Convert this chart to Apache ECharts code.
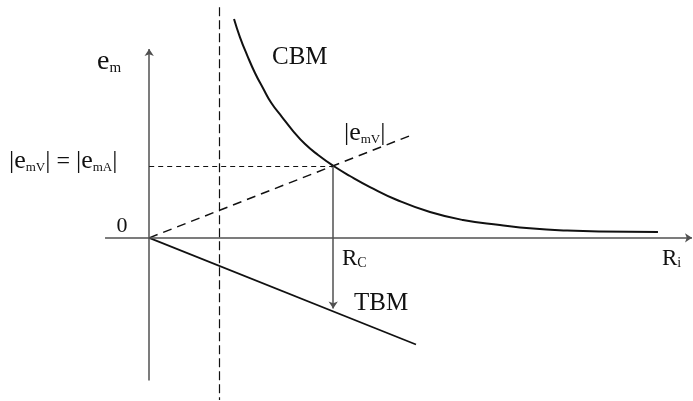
<!DOCTYPE html>
<html>
<head>
<meta charset="utf-8">
<script src="https://cdn.jsdelivr.net/npm/echarts@6/dist/echarts.min.js"></script>
<style>
  html, body { margin: 0; padding: 0; background: #fff; }
  #chart { width: 693px; height: 401px; }
</style>
</head>
<body>
<div id="chart"></div>
<script>
// CBM curve: e_m against R_i (arbitrary units, R_C = 1, e at R_C = 1)
const cbmR = [0.461, 0.493, 0.532, 0.575, 0.618, 0.664, 0.722, 0.782, 0.847, 0.918, 1.0,
              1.091, 1.200, 1.347, 1.526, 1.705, 1.906, 2.086, 2.271, 2.450, 2.765];
const cbmE = [3.036, 2.786, 2.536, 2.287, 2.079, 1.870, 1.676, 1.482, 1.301, 1.149, 1.0,
              0.858, 0.705, 0.525, 0.358, 0.247, 0.178, 0.129, 0.101, 0.087, 0.080];

// |e_mV| rising line and TBM falling line, both from the origin
const emvR = [0, 1.42];
const emvE = [0, 1.42];
const tbmR = [0, 1.45];
const tbmE = [0, -1.48];

// crossing point and the dashed boundary
const rC = 1.0;
const eC = 1.0;
const eTbmAtRc = -0.98;
const boundaryR = 0.38;

// axis extents
const xAxisFrom = -0.24, xAxisTo = 2.95;
const yAxisFrom = -1.98, yAxisTo = 2.62;

const zip = (xs, ys) => xs.map((x, i) => [x, ys[i]]);

const SERIF = '"Liberation Serif", "DejaVu Serif", serif';
const INK = '#111';
const AXIS = '#505050';

function sub(main, s, mainSize, subSize) {
  return {
    text: '{a|' + main + '}{b|' + s + '}',
    rich: {
      a: { fontFamily: SERIF, fontSize: mainSize, fill: INK, verticalAlign: 'bottom' },
      b: { fontFamily: SERIF, fontSize: subSize, fill: INK, verticalAlign: 'bottom' }
    }
  };
}

const chart = echarts.init(document.getElementById('chart'), null, { renderer: 'canvas' });

const hidden = { show: false };
chart.setOption({
  animation: false,
  backgroundColor: '#fff',
  grid: { left: 2, right: 1, top: 0, bottom: 1 },
  xAxis: { type: 'value', min: -0.8, max: 2.95, axisLine: hidden, axisTick: hidden, axisLabel: hidden, splitLine: hidden },
  yAxis: { type: 'value', min: -2.25, max: 3.3, axisLine: hidden, axisTick: hidden, axisLabel: hidden, splitLine: hidden },
  series: [
    {
      name: 'axes',
      type: 'line',
      data: [],
      silent: true,
      markLine: {
        silent: true,
        symbol: ['none', 'arrow'],
        symbolSize: 7,
        label: { show: false },
        lineStyle: { color: AXIS, width: 1.5, type: 'solid' },
        emphasis: { disabled: true },
        data: [
          [{ coord: [xAxisFrom, 0] }, { coord: [xAxisTo, 0] }],
          [{ coord: [0, yAxisFrom] }, { coord: [0, yAxisTo] }],
          [{ coord: [rC, eC] }, { coord: [rC, eTbmAtRc] }]
        ]
      }
    },
    {
      name: 'boundary',
      type: 'line',
      data: [],
      silent: true,
      markLine: {
        silent: true,
        symbol: ['none', 'none'],
        label: { show: false },
        emphasis: { disabled: true },
        data: [
          [{ coord: [boundaryR, 3.2], lineStyle: { color: INK, width: 1.2, type: [9, 4] } },
           { coord: [boundaryR, -2.25] }],
          [{ coord: [0, eC], lineStyle: { color: INK, width: 1, type: [5, 4] } },
           { coord: [rC, eC] }]
        ]
      }
    },
    {
      name: 'CBM',
      type: 'line',
      data: zip(cbmR, cbmE),
      smooth: 0.5,
      showSymbol: false,
      silent: true,
      lineStyle: { color: INK, width: 2 }
    },
    {
      name: '|emV|',
      type: 'line',
      data: zip(emvR, emvE),
      showSymbol: false,
      silent: true,
      lineStyle: { color: INK, width: 1.5, type: [9, 6] }
    },
    {
      name: 'TBM',
      type: 'line',
      data: zip(tbmR, tbmE),
      showSymbol: false,
      silent: true,
      lineStyle: { color: INK, width: 1.7 }
    }
  ],
  graphic: [
    { type: 'text', x: 97, y: 76, style: Object.assign(sub('e', 'm', 28, 15), { verticalAlign: 'bottom' }) },
    { type: 'text', x: 272, y: 57, style: { text: 'CBM', fontFamily: SERIF, fontSize: 25, fill: INK, verticalAlign: 'middle' } },
    { type: 'text', x: 354, y: 303, style: { text: 'TBM', fontFamily: SERIF, fontSize: 25, fill: INK, verticalAlign: 'middle' } },
    { type: 'text', x: 122, y: 226, style: { text: '0', fontFamily: SERIF, fontSize: 22, fill: INK, align: 'center', verticalAlign: 'middle' } },
    { type: 'text', x: 342, y: 270, style: Object.assign(sub('R', 'C', 23, 14), { verticalAlign: 'bottom' }) },
    { type: 'text', x: 662, y: 270, style: Object.assign(sub('R', 'i', 23, 14), { verticalAlign: 'bottom' }) },
    {
      type: 'text', x: 344, y: 146,
      style: {
        text: '{a||e}{b|mV}{a||}',
        verticalAlign: 'bottom',
        rich: {
          a: { fontFamily: SERIF, fontSize: 26, fill: INK, verticalAlign: 'bottom' },
          b: { fontFamily: SERIF, fontSize: 13, fill: INK, verticalAlign: 'bottom' }
        }
      }
    },
    {
      type: 'text', x: 9, y: 174,
      style: {
        text: '{a||e}{b|mV}{a||}{c| = }{a||e}{b|mA}{a||}',
        verticalAlign: 'bottom',
        rich: {
          a: { fontFamily: SERIF, fontSize: 26, fill: INK, verticalAlign: 'bottom' },
          b: { fontFamily: SERIF, fontSize: 13, fill: INK, verticalAlign: 'bottom' },
          c: { fontFamily: SERIF, fontSize: 24, fill: INK, verticalAlign: 'bottom' }
        }
      }
    }
  ]
});
</script>
</body>
</html>
